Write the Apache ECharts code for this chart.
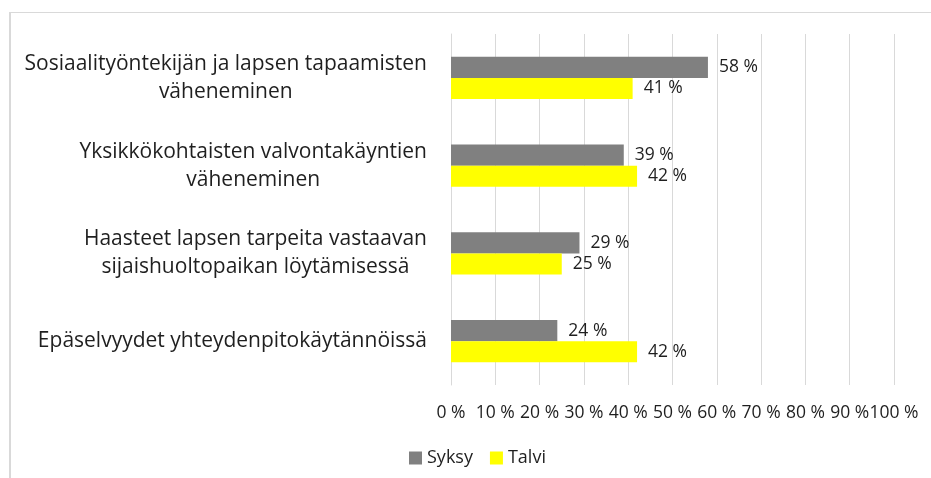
<!DOCTYPE html>
<html>
<head>
<meta charset="utf-8">
<script src="https://cdn.jsdelivr.net/npm/echarts@6/dist/echarts.min.js"></script>
<style>
html,body{margin:0;padding:0;background:#fff;}
#frame{position:absolute;left:9px;top:12px;width:940px;height:480px;border-top:1px solid #d9d9d9;border-left:2px solid #d9d9d9;}
#chart{position:absolute;left:0;top:0;width:931px;height:478px;}
</style>
</head>
<body>
<div id="frame"></div>
<div id="chart"></div>
<script>
const categories = [
  "Sosiaalityöntekijän ja lapsen tapaamisten väheneminen",
  "Yksikkökohtaisten valvontakäyntien väheneminen",
  "Haasteet lapsen tarpeita vastaavan sijaishuoltopaikan löytämisessä",
  "Epäselvyydet yhteydenpitokäytännöissä"
];
const seriesNames = ["Syksy", "Talvi"];
const syksy = [58, 39, 29, 24];
const talvi = [41, 42, 25, 42];
const xTicks = [0, 10, 20, 30, 40, 50, 60, 70, 80, 90, 100];

const fontName = "'Open Sans'";
const font = fontName + ", 'Noto Sans', sans-serif";
const catFontSize = 21;
const textColor = '#1f1f1f';

const measureCtx = document.createElement('canvas').getContext('2d');
measureCtx.font = catFontSize + 'px ' + font;
function wrapLabel(s, maxW) {
  const words = s.split(' ');
  const lines = [];
  let cur = '';
  words.forEach(w => {
    const t = cur ? cur + ' ' + w : w;
    if (cur && measureCtx.measureText(t).width > maxW) { lines.push(cur); cur = w; }
    else cur = t;
  });
  if (cur) lines.push(cur);
  return lines;
}

const chart = echarts.init(document.getElementById('chart'));
chart.setOption({
  animation: false,
  textStyle: {fontFamily: font},
  grid: {left: 451, right: 37, top: 34, bottom: 93, containLabel: false},
  xAxis: {
    type: 'value', min: xTicks[0], max: xTicks[xTicks.length - 1], interval: 10,
    axisLine: {show: false}, axisTick: {show: false},
    splitLine: {show: true, lineStyle: {color: '#d9d9d9', width: 1}},
    axisLabel: {formatter: '{value} %', color: textColor, fontSize: 17.5, margin: 19, fontFamily: font}
  },
  yAxis: {
    type: 'category', data: categories, inverse: true,
    axisLine: {show: true, lineStyle: {color: '#d9d9d9'}}, axisTick: {show: false},
    axisLabel: {
      margin: 24, align: 'right',
      formatter: v => wrapLabel(v, 418).map(l => '{c|' + l + '}').join('\n'),
      rich: {c: {align: 'center', fontSize: catFontSize, lineHeight: 28, color: textColor, fontFamily: font}}
    }
  },
  legend: {
    data: seriesNames, bottom: 6, left: 404, itemWidth: 13, itemHeight: 13, itemGap: 17,
    icon: 'rect', textStyle: {fontSize: 18, color: textColor, fontFamily: font}
  },
  series: [
    {name: seriesNames[0], type: 'bar', data: syksy, barGap: '0%', barCategoryGap: '52%',
     itemStyle: {color: '#808080'},
     label: {show: true, position: 'right', distance: 11, formatter: '{c} %', color: textColor, fontSize: 17.5, fontFamily: font}},
    {name: seriesNames[1], type: 'bar', data: talvi, barGap: '0%', barCategoryGap: '52%',
     itemStyle: {color: '#ffff00'},
     label: {show: true, position: 'right', distance: 11, formatter: '{c} %', color: textColor, fontSize: 17.5, fontFamily: font}}
  ]
});
</script>
</body>
</html>
